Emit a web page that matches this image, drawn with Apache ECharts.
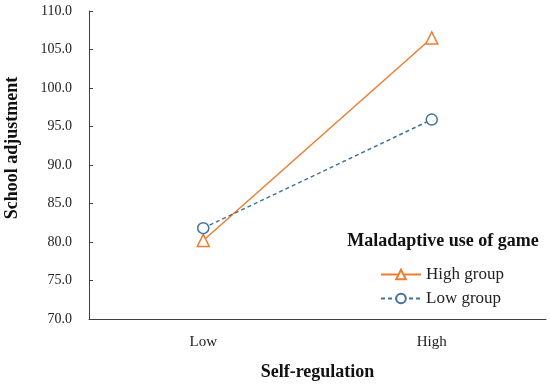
<!DOCTYPE html>
<html><head><meta charset="utf-8">
<script src="https://cdn.jsdelivr.net/npm/echarts@6/dist/echarts.min.js"></script>
<style>html,body{margin:0;padding:0;background:#fff}#c{width:550px;height:386px}</style>
</head><body><div id="c"></div>
<script>
const categories = ['Low', 'High'];
const highGroup = [80.2, 106.5];
const lowGroup = [81.8, 95.9];
const seriesNames = ['High group', 'Low group'];
const legendTitle = 'Maladaptive use of game';
const xTitle = 'Self-regulation';
const yTitle = 'School adjustment';

const FONT = 'Liberation Serif';
const chart = echarts.init(document.getElementById('c'), null, {renderer: 'canvas'});
chart.setOption({
  backgroundColor: '#fff',
  animation: false,
  textStyle: {fontFamily: FONT},
  grid: {left: 89, right: 4, top: 11, bottom: 64},
  xAxis: {
    type: 'category', data: categories, boundaryGap: true,
    axisLine: {lineStyle: {color: '#404040', width: 1}},
    axisTick: {inside: true, length: 4, lineStyle: {color: '#404040'}},
    axisLabel: {color: '#222', fontSize: 15, fontFamily: FONT, margin: 16},
    name: xTitle, nameLocation: 'middle', nameGap: 44,
    nameTextStyle: {fontSize: 18, fontWeight: 'bold', color: '#111', fontFamily: FONT}
  },
  yAxis: {
    type: 'value', min: 70, max: 110, interval: 5,
    axisLine: {show: true, lineStyle: {color: '#404040', width: 1}},
    axisTick: {show: true, inside: true, length: 4, lineStyle: {color: '#404040'}},
    splitLine: {show: false},
    axisLabel: {color: '#222', fontSize: 14, fontFamily: FONT, margin: 17,
      formatter: v => v.toFixed(1)}
  },
  graphic: [
    {type: 'text', x: 12, y: 148, rotation: Math.PI / 2,
      style: {text: yTitle, font: 'bold 18px "Liberation Serif"', fill: '#111', textAlign: 'center', textVerticalAlign: 'middle'}},
    {type: 'text', x: 443, y: 241,
      style: {text: legendTitle, font: 'bold 18px "Liberation Serif"', fill: '#111', textAlign: 'center', textVerticalAlign: 'middle'}}
  ],
  legend: {
    orient: 'vertical', left: 375, top: 261, itemGap: 7, itemWidth: 40, itemHeight: 12,
    textStyle: {fontSize: 17, color: '#222', fontFamily: FONT},
    data: seriesNames
  },
  series: [
    {name: seriesNames[0], type: 'line', data: highGroup,
      symbol: 'triangle', symbolSize: 12,
      lineStyle: {color: '#ED7D31', width: 1.5},
      itemStyle: {color: '#fff', borderColor: '#ED7D31', borderWidth: 1.5}},
    {name: seriesNames[1], type: 'line', data: lowGroup,
      symbol: 'circle', symbolSize: 11,
      lineStyle: {color: '#41719C', width: 1.5, type: [4, 3]},
      itemStyle: {color: '#fff', borderColor: '#41719C', borderWidth: 1.5}}
  ]
});
</script></body></html>
